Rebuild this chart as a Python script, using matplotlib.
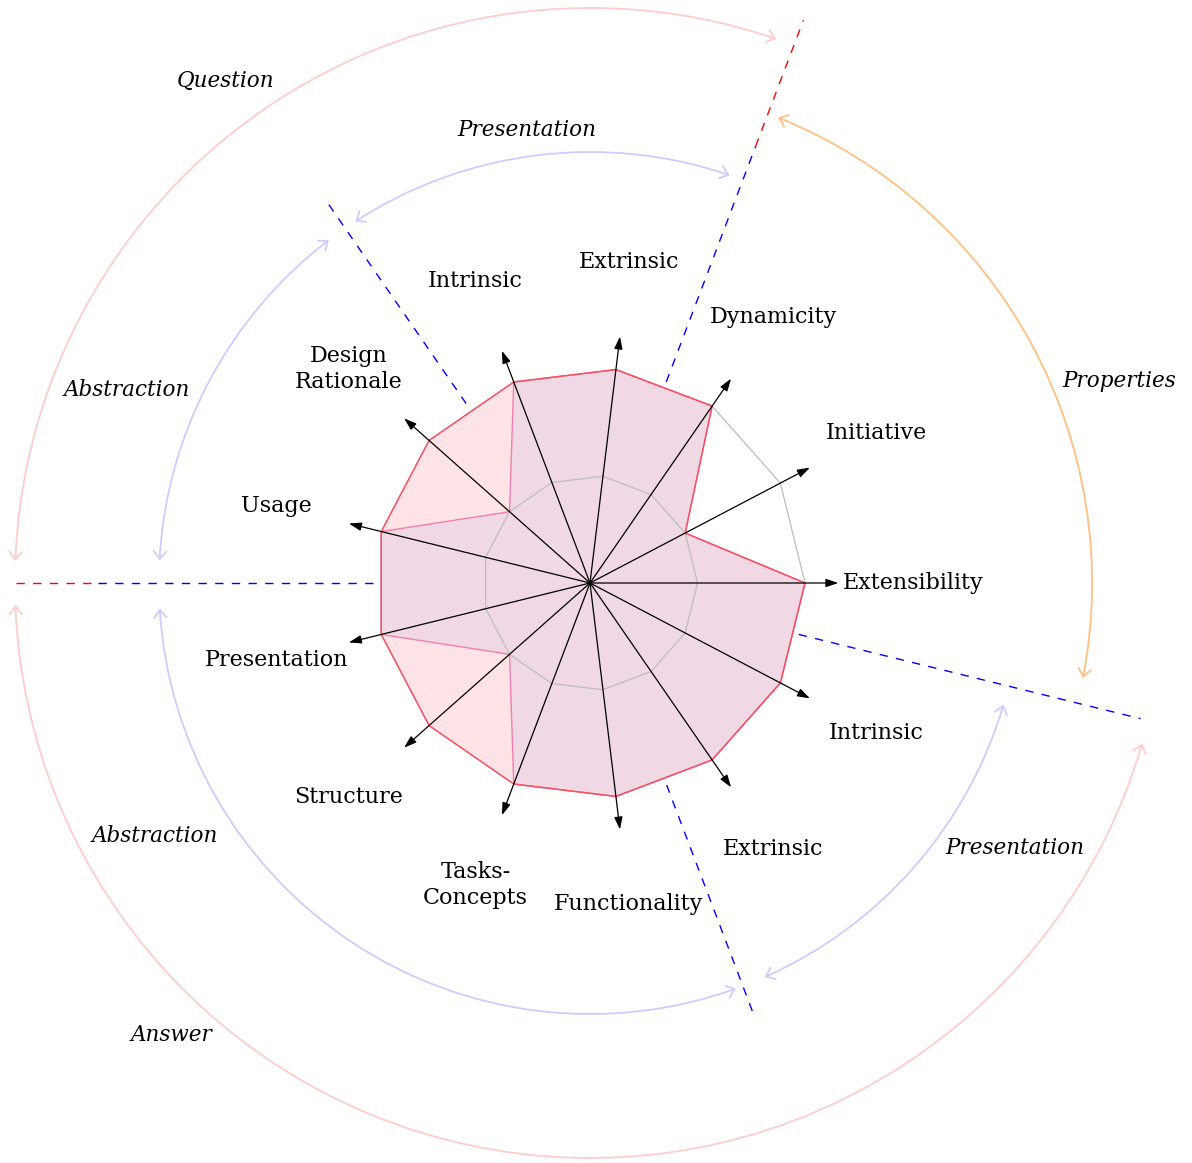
import numpy as np
import matplotlib
matplotlib.use("Agg")
import matplotlib.pyplot as plt
from matplotlib.patches import FancyArrowPatch, Polygon
from matplotlib.path import Path
from matplotlib.transforms import Affine2D

# ---- data -------------------------------------------------------------
axis_labels = ["Extensibility", "Initiative", "Dynamicity", "Extrinsic", "Intrinsic",
               "Design\nRationale", "Usage", "Presentation", "Structure",
               "Tasks-\nConcepts", "Functionality", "Extrinsic", "Intrinsic"]
series_a = [1.0, 0.5, 1.0, 1.0, 1.0, 1.0, 1.0, 1.0, 1.0, 1.0, 1.0, 1.0, 1.0]
series_b = [1.0, 0.5, 1.0, 1.0, 1.0, 0.5, 1.0, 1.0, 0.5, 1.0, 1.0, 1.0, 1.0]
grid_levels = [0.5, 1.0]

# group arcs: label, colour, radius, start angle, end angle, label angle, label radius
arc_names = ["Question", "Answer", "Properties", "Presentation", "Abstraction",
             "Abstraction", "Presentation"]
arc_colors = ["#ffcccc", "#ffcccc", "#ffc080", "#ccccff", "#ccccff", "#ccccff", "#ccccff"]
arc_radius = [575, 575, 502, 431, 431, 431, 431]
arc_start = [71.1, 182.2, 349.1, 71.1, 127.3, 183.4, 293.9]
arc_end = [177.8, 343.8, 428.0, 123.0, 177.0, 289.8, 343.6]
arc_label_pos = [(126.0, 620), (227.2, 616), (20.9, 567), (97.9, 457),
                 (157.4, 502), (210.2, 503), (328.0, 501)]

# separators: position between axes (index), colour, from radius, to radius
sep_index = [2.5, 2.5, 4.5, 6.5, 6.5, 10.5, 12.5]
sep_color = ["blue", "red", "blue", "blue", "red", "blue", "blue"]
sep_r0 = [215, 467, 218, 217, 499, 216, 215]
sep_r1 = [467, 602, 464, 499, 575, 461, 567]

# ---- layout -----------------------------------------------------------
R = 215          # pixels for value 1.0
AXIS_LEN = 1.155
LABEL_R = 323
n = len(axis_labels)
step = 360.0 / n
angles = np.deg2rad(np.arange(n) * step)

plt.rcParams['font.family'] = ['DejaVu Serif']
fig = plt.figure(figsize=(11.92, 11.63), dpi=100)
ax = fig.add_axes([0, 0, 1, 1])
ax.set_xlim(-590, 602)
ax.set_ylim(-580, 583)
ax.axis('off')


def xy(vals, r=R):
    v = np.asarray(vals, dtype=float) * r
    return np.column_stack([v * np.cos(angles), v * np.sin(angles)])


# fills
ax.add_patch(Polygon(xy(series_a), closed=True, facecolor="#ffe3e6", edgecolor="none", zorder=1))
ax.add_patch(Polygon(xy(series_b), closed=True, facecolor="#f0d8e4", edgecolor="none", zorder=1.1))

# grid
for lv in grid_levels:
    ax.add_patch(Polygon(xy([lv] * n), closed=True, fill=False, edgecolor="#bdbdbd", lw=0.9, zorder=2))

# outlines
ax.add_patch(Polygon(xy(series_b), closed=True, fill=False, edgecolor="#f080b0", lw=1.0, zorder=3))
ax.add_patch(Polygon(xy(series_a), closed=True, fill=False, edgecolor="#ff4a5a", lw=1.0, zorder=3.1))

# axes arrows and labels
for i, a in enumerate(angles):
    tip = (R * AXIS_LEN * np.cos(a), R * AXIS_LEN * np.sin(a))
    ax.add_patch(FancyArrowPatch((0, 0), tip, arrowstyle='-|>,head_length=0.75,head_width=0.25',
                                 mutation_scale=10, color='black', lw=0.9, shrinkA=0, shrinkB=0, zorder=4))
    ax.text(LABEL_R * np.cos(a), LABEL_R * np.sin(a), axis_labels[i], ha='center', va='center',
            fontsize=16, linespacing=1.25, multialignment='center', zorder=5)

# separators
for k, c, r0, r1 in zip(sep_index, sep_color, sep_r0, sep_r1):
    a = np.deg2rad(k * step)
    ax.plot([r0 * np.cos(a), r1 * np.cos(a)], [r0 * np.sin(a) + 0.01, r1 * np.sin(a) + 0.01],
            color=c, lw=1.0, linestyle=(0, (6, 6)), zorder=2)

# group arcs
for name, c, r, t0, t1, (la, lr) in zip(arc_names, arc_colors, arc_radius, arc_start, arc_end, arc_label_pos):
    p = Affine2D().scale(r).transform_path(Path.arc(t0, t1))
    ax.add_patch(FancyArrowPatch(path=p, arrowstyle='<->,head_length=0.55,head_width=0.45',
                                 mutation_scale=10, color=c, lw=1.3, zorder=2))
    lrad = np.deg2rad(la)
    ax.text(lr * np.cos(lrad), lr * np.sin(lrad), name, ha='center', va='center',
            fontsize=15.5, style='italic', zorder=5)

fig.savefig("out.png", dpi=100)
